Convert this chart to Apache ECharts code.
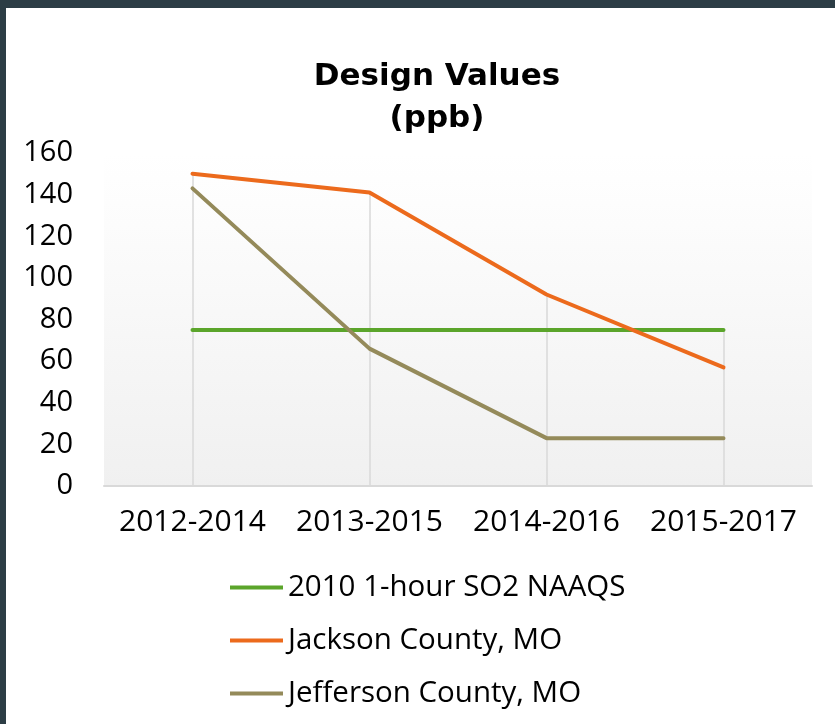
<!DOCTYPE html>
<html>
<head>
<meta charset="utf-8">
<script src="https://cdn.jsdelivr.net/npm/echarts@6/dist/echarts.min.js"></script>
<style>
  html, body { margin: 0; padding: 0; background: #2c3d45; width: 835px; height: 724px; overflow: hidden; }
  #main { position: absolute; left: 6px; top: 8px; width: 829px; height: 716px; background: #fff; }
</style>
</head>
<body>
<div id="main"></div>
<script>
// periods on the x axis
var periods = ['2012-2014', '2013-2015', '2014-2016', '2015-2017'];
// design values (ppb)
var naaqs = [75, 75, 75, 75];
var jackson = [150, 141, 92, 57];
var jefferson = [143, 66, 23, 23];
var seriesNames = ['2010 1-hour SO2 NAAQS', 'Jackson County, MO', 'Jefferson County, MO'];
var seriesColors = ['#5ba52b', '#ec6a1c', '#948a5a'];

var font = 'Open Sans';
var myChart = echarts.init(document.getElementById('main'));

function lineSeries(name, data, color) {
    return {
        name: name,
        type: 'line',
        data: data,
        symbol: 'none',
        z: 3,
        lineStyle: { color: color, width: 4, cap: 'round' },
        itemStyle: { color: color }
    };
}

// drop lines: from the highest value of each period down to the axis
var dropLines = periods.map(function (p, i) {
    var top = Math.max(naaqs[i], jackson[i], jefferson[i]);
    return [{ coord: [p, 0] }, { coord: [p, top] }];
});

var s0 = lineSeries(seriesNames[0], naaqs, seriesColors[0]);
s0.markLine = {
    silent: true,
    symbol: 'none',
    label: { show: false },
    lineStyle: { color: '#d9d9d9', width: 1.5, type: 'solid' },
    data: dropLines,
    z: 1
};

var option = {
    animation: false,
    title: {
        text: 'Design Values\n(ppb)',
        left: 426,
        top: 43,
        textAlign: 'center',
        textStyle: { fontFamily: 'DejaVu Sans', fontWeight: 'bold', fontSize: 31, lineHeight: 42, color: '#000' }
    },
    legend: {
        orient: 'vertical',
        left: 219,
        top: 559,
        itemGap: 22,
        itemWidth: 53,
        itemHeight: 4,
        icon: 'rect',
        data: seriesNames,
        textStyle: { fontFamily: font, fontSize: 29.5, color: '#000', lineHeight: 31 }
    },
    grid: {
        left: 98,
        right: 23,
        top: 145,
        bottom: 238,
        show: true,
        borderWidth: 0,
        backgroundColor: new echarts.graphic.LinearGradient(0, 0, 0, 1, [
            { offset: 0, color: '#ffffff' },
            { offset: 0.15, color: '#fdfdfd' },
            { offset: 1, color: '#f0f0f0' }
        ])
    },
    xAxis: {
        type: 'category',
        data: periods,
        boundaryGap: true,
        axisLine: { lineStyle: { color: '#d9d9d9', width: 2 } },
        axisTick: { show: false },
        splitLine: { show: false },
        axisLabel: { interval: 0, hideOverlap: false, fontFamily: font, fontSize: 30, color: '#000', margin: 21 }
    },
    yAxis: {
        type: 'value',
        min: 0,
        max: 160,
        interval: 20,
        axisLine: { show: false },
        axisTick: { show: false },
        splitLine: { show: false },
        axisLabel: { fontFamily: font, fontSize: 29, color: '#000', margin: 31 }
    },
    series: [
        s0,
        lineSeries(seriesNames[1], jackson, seriesColors[1]),
        lineSeries(seriesNames[2], jefferson, seriesColors[2])
    ]
};

myChart.setOption(option);
</script>
</body>
</html>
